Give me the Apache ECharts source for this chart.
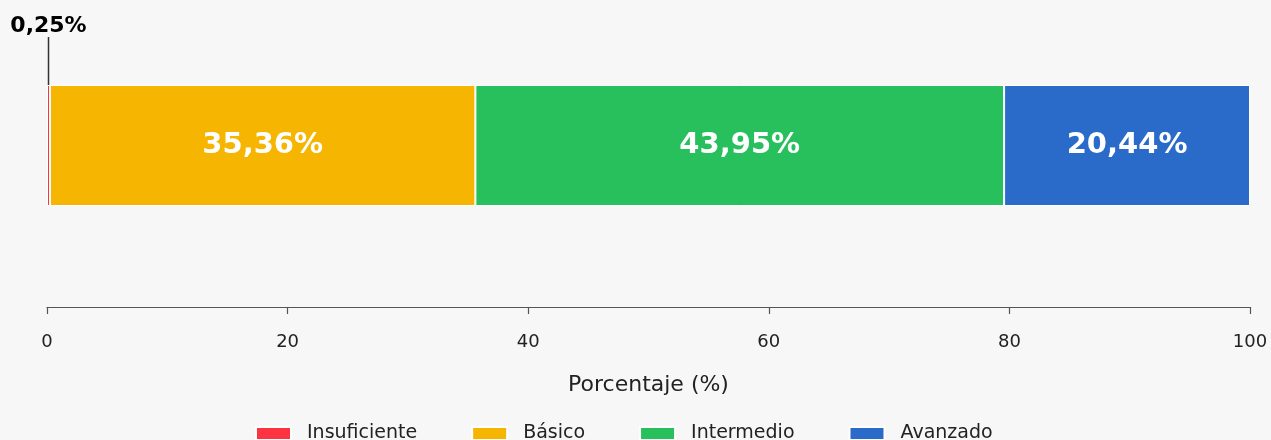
<!DOCTYPE html>
<html>
<head>
<meta charset="utf-8">
<script src="https://cdn.jsdelivr.net/npm/echarts@6/dist/echarts.min.js"></script>
<style>
  html, body { margin: 0; padding: 0; background: #f7f7f7; }
  #chart { width: 1271px; height: 440px; }
</style>
</head>
<body>
<div id="chart"></div>
<script>
// niveles de desempeño y su porcentaje
const niveles = ['Insuficiente', 'Básico', 'Intermedio', 'Avanzado']
const porcentajes = [0.25, 35.36, 43.95, 20.44]
const colores = ['#fe3341', '#f5b500', '#27c05c', '#2a6ac8']
const xTicks = [0, 20, 40, 60, 80, 100]

const FONT = 'DejaVu Sans'
const fmt = v => v.toFixed(2).replace('.', ',') + '%'

const chart = echarts.init(document.getElementById('chart'))

const series = niveles.map((nombre, i) => {
    const pequeno = porcentajes[i] < 5
    return {
        name: nombre,
        type: 'bar',
        stack: 'total',
        barWidth: '100%',
        data: [porcentajes[i]],
        itemStyle: { color: colores[i], borderColor: '#ffffff', borderWidth: 1 },
        label: pequeno ? {
            show: true,
            position: 'top',
            distance: 0,
            formatter: p => fmt(p.value),
            fontFamily: FONT,
            fontWeight: 'bold',
            fontSize: 22,
            color: '#000'
        } : {
            show: true,
            position: 'inside',
            formatter: p => fmt(p.value),
            fontFamily: FONT,
            fontWeight: 'bold',
            fontSize: 29,
            color: '#ffffff'
        },
        labelLayout: pequeno ? { dy: -48 } : undefined,
        labelLine: pequeno ? { show: true, lineStyle: { color: '#333', width: 1.5 } } : undefined
    }
})

chart.setOption({
    backgroundColor: '#f7f7f7',
    animation: false,
    textStyle: { fontFamily: FONT },
    grid: { left: 47, right: 21, top: 85, bottom: 234 },
    xAxis: {
        type: 'value',
        min: 0,
        max: 100,
        interval: 20,
        offset: 101,
        name: 'Porcentaje (%)',
        nameLocation: 'middle',
        nameGap: 67,
        nameTextStyle: { fontSize: 22, color: '#222', fontFamily: FONT },
        axisLine: { show: true, lineStyle: { color: '#555', width: 1.2 } },
        axisTick: { show: true, inside: false, length: 7, lineStyle: { color: '#555', width: 1.2 } },
        axisLabel: {
            margin: 26,
            fontSize: 18,
            color: '#222',
            fontFamily: FONT,
            formatter: v => xTicks.includes(v) ? String(v) : ''
        },
        splitLine: { show: false }
    },
    yAxis: {
        type: 'category',
        data: [''],
        show: false
    },
    legend: {
        data: niveles,
        top: 424,
        left: 255,
        padding: 0,
        itemWidth: 35,
        itemHeight: 13,
        itemGap: 54,
        icon: 'rect',
        textStyle: { fontSize: 19, color: '#222', fontFamily: FONT, padding: [0, 0, 0, 11] }
    },
    series: series
})
</script>
</body>
</html>
